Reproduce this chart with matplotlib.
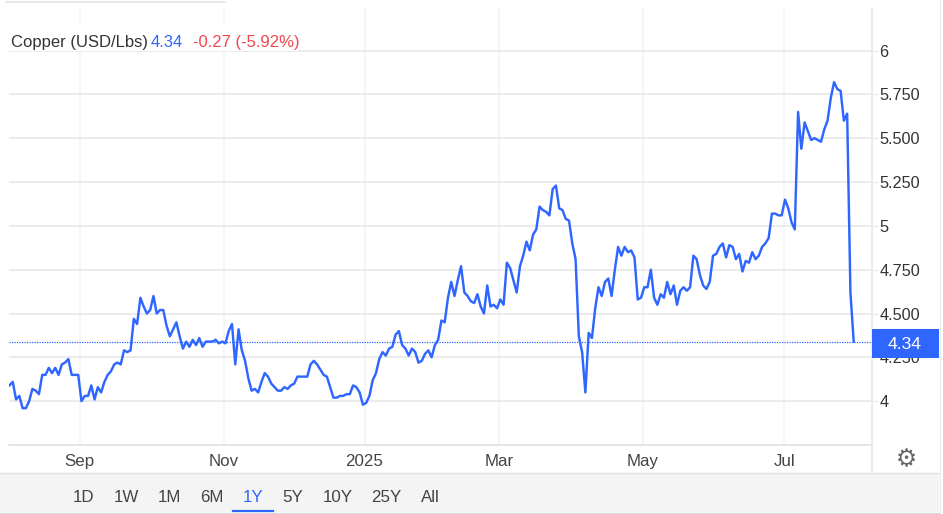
import matplotlib
matplotlib.use("Agg")
import matplotlib.pyplot as plt
from matplotlib.patches import Rectangle
from matplotlib.lines import Line2D

plt.rcParams['font.family'] = ['Liberation Sans', 'DejaVu Sans']

W, H = 943, 514

prices_a = [4.09, 4.11, 4.01, 4.03, 3.96, 3.96, 4.00, 4.07, 4.06, 4.04, 4.15, 4.15, 4.19, 4.16, 4.19, 4.15,
            4.21, 4.22, 4.24, 4.15, 4.15, 4.15, 4.00, 4.03, 4.03, 4.09, 4.01, 4.08, 4.05, 4.11, 4.15, 4.17,
            4.21, 4.22, 4.21, 4.29, 4.28, 4.29, 4.47, 4.44, 4.59, 4.54, 4.50, 4.52, 4.60, 4.50, 4.52, 4.52,
            4.43, 4.37, 4.41, 4.45, 4.37, 4.30, 4.34, 4.31, 4.35, 4.32, 4.36, 4.31, 4.34, 4.34, 4.34, 4.35,
            4.33, 4.34, 4.33, 4.40, 4.44, 4.21, 4.41, 4.29, 4.23, 4.13, 4.06, 4.07, 4.05, 4.11, 4.16, 4.14,
            4.10, 4.08, 4.06, 4.06, 4.08, 4.07, 4.09, 4.10, 4.14, 4.14, 4.14, 4.14, 4.21, 4.23, 4.21, 4.18]
prices_b = [4.15, 4.14, 4.08, 4.02, 4.02, 4.03, 4.03, 4.04, 4.04, 4.09, 4.08, 4.05, 3.98, 3.99, 4.03, 4.12,
            4.16, 4.24, 4.28, 4.26, 4.30, 4.31, 4.38, 4.40, 4.32, 4.30, 4.26, 4.30, 4.28, 4.22, 4.23, 4.27,
            4.29, 4.25, 4.32, 4.35, 4.46, 4.45, 4.59, 4.68, 4.60, 4.69, 4.77, 4.62, 4.60, 4.57, 4.56, 4.61,
            4.54, 4.50, 4.66, 4.54, 4.55, 4.53, 4.58, 4.55, 4.79, 4.76, 4.69, 4.62, 4.77, 4.83, 4.91, 4.86,
            4.95, 4.98, 5.11, 5.09, 5.08, 5.06, 5.21, 5.23, 5.10, 5.09, 5.04, 5.03, 4.90, 4.81, 4.37, 4.28,
            4.05, 4.39, 4.36, 4.53, 4.65, 4.60, 4.68, 4.70, 4.60, 4.75, 4.88]
prices_c = [4.83, 4.88, 4.85, 4.86, 4.82, 4.58, 4.59, 4.65, 4.65, 4.75, 4.59, 4.55, 4.61, 4.59, 4.68, 4.61,
            4.66, 4.55, 4.63, 4.65, 4.63, 4.65, 4.83, 4.81, 4.72, 4.66, 4.64, 4.68, 4.83, 4.84, 4.88, 4.90,
            4.82, 4.89, 4.88, 4.81, 4.84, 4.74, 4.80, 4.79, 4.85, 4.81, 4.83, 4.88, 4.90, 4.93, 5.07, 5.07,
            5.06, 5.06, 5.15, 5.10, 5.02, 4.98, 5.65, 5.44, 5.59, 5.54, 5.49, 5.50, 5.49, 5.48, 5.55, 5.60,
            5.73, 5.82, 5.78, 5.77, 5.60, 5.64, 4.62, 4.34]
prices = prices_a + prices_b + prices_c

last_price = 4.34
y_ticks = [4, 4.25, 4.5, 4.75, 5, 5.25, 5.5, 5.75, 6]
y_labels = ['4', '4.250', '4.500', '4.750', '5', '5.250', '5.500', '5.750', '6']
month_ticks = [21.4, 65.6, 108.5, 149.7, 193.5, 236.8]
month_labels = ['Sep', 'Nov', '2025', 'Mar', 'May', 'Jul']
ranges = ['1D', '1W', '1M', '6M', '1Y', '5Y', '10Y', '25Y', 'All']
range_x = [83, 126, 169, 212, 253, 293, 338, 386, 430]

BLUE = '#2e66ff'
GRID = '#e6e6e6'
TEXT = '#333333'


def fx(px):
    return px / W


def fy(py):
    return 1 - py / H


fig = plt.figure(figsize=(W / 100, H / 100), dpi=100)
ax = fig.add_axes([fx(9), fy(445), fx(871.5 - 9), (445 - 8) / H])

step = (853.7 - 9.5) / (len(prices) - 1)
ax.set_xlim(-0.5 / step, (871.5 - 9.5) / step)
ax.set_ylim(3.75, 3.75 + (445 - 8) / 175.3)

ax.plot(range(len(prices)), prices, color=BLUE, lw=1.75, zorder=3, solid_joinstyle='round')
ax.axhline(last_price, color=BLUE, lw=0.9, ls=(0, (1, 1)), zorder=2)

# grid
ax.set_yticks(y_ticks)
ax.set_yticklabels(y_labels)
ax.set_xticks(month_ticks)
ax.set_xticklabels(month_labels)
ax.grid(axis='y', color=GRID, lw=1.1)
ax.grid(axis='x', color='#f0f3f5', lw=1.1)
ax.set_axisbelow(True)
ax.yaxis.tick_right()
ax.tick_params(axis='y', length=4.3, width=0.9, color=GRID, pad=1.2, labelsize=11.7, labelcolor=TEXT)
ax.tick_params(axis='x', length=0, pad=6.3, labelsize=12.2, labelcolor='#444444')
for side in ['top', 'left', 'right']:
    ax.spines[side].set_visible(False)
ax.spines['bottom'].set_color('#e3e3e3')
ax.spines['bottom'].set_linewidth(1.3)

# right edge, top stub
fig.add_artist(Line2D([fx(871.5), fx(871.5)], [fy(8), fy(473)], color='#e6e6e6', lw=1.1))
fig.add_artist(Line2D([fx(6), fx(225)], [fy(2), fy(2)], color='#e0e0e0', lw=1.1))

# title box
fig.add_artist(Rectangle((fx(9), fy(51)), fx(290), 27 / H, color='white', lw=0, zorder=4))
fig.text(fx(11), fy(42.5), 'Copper (USD/Lbs)', color=TEXT, fontsize=12, va='center', zorder=5)
fig.text(fx(151), fy(42.5), '4.34', color=BLUE, fontsize=12, va='center', zorder=5)
fig.text(fx(193), fy(42.5), '-0.27 (-5.92%)', color='#f0474f', fontsize=12, va='center', zorder=5)

# last price label
fig.add_artist(Rectangle((fx(872), fy(357.5)), fx(67), 28.5 / H, color=BLUE, lw=0, zorder=4))
fig.text(fx(905), fy(344.5), '4.34', color='white', fontsize=12.6, ha='center', va='center', zorder=5)

# range selector
fig.add_artist(Rectangle((0, fy(512)), fx(939), 39 / H, facecolor='#f4f4f4', edgecolor='none', zorder=1))
fig.add_artist(Line2D([0, fx(939)], [fy(473), fy(473)], color='#e2e2e2', lw=1, zorder=2))
fig.add_artist(Line2D([0, fx(939)], [fy(512.5), fy(512.5)], color='#d8d8d8', lw=1, zorder=2))
fig.add_artist(Line2D([fx(939.5), fx(939.5)], [fy(0), fy(512)], color='#ececec', lw=1, zorder=2))
for label, x in zip(ranges, range_x):
    color = BLUE if label == '1Y' else '#444444'
    fig.text(fx(x), fy(497), label, color=color, fontsize=12.2, ha='center', va='center', zorder=5)
fig.add_artist(Line2D([fx(233), fx(273)], [fy(511), fy(511)], color=BLUE, lw=1.6, zorder=5))

# settings icon
fig.text(fx(906), fy(459), '\u2699', color='#666666', fontsize=17, ha='center', va='center',
         family='DejaVu Sans', zorder=5)

fig.savefig('out.png', dpi=100)
plt.close(fig)
